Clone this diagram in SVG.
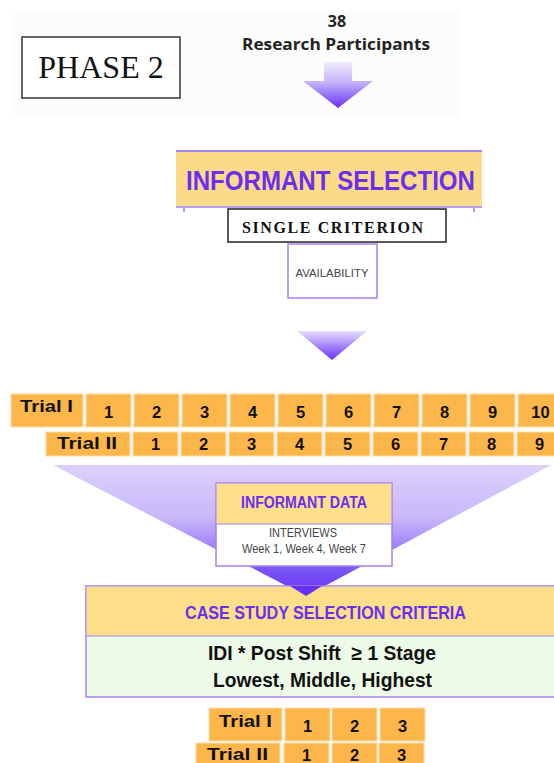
<svg xmlns="http://www.w3.org/2000/svg" width="554" height="763" viewBox="0 0 554 763">
<defs>
<style>
.cell{fill:#fdb64a;stroke:#fddcaa;stroke-width:1}
.t{font-family:"Liberation Sans",Arial,sans-serif;font-weight:bold;fill:#111}
.num{font-size:16.5px;text-anchor:middle}
.lbl{font-size:16px}
.pur{fill:#6a2ff0}
.gray{font-family:"Liberation Sans",Arial,sans-serif;fill:#444;text-anchor:middle}
</style>
<linearGradient id="g1" x1="0" y1="0" x2="0" y2="1">
<stop offset="0" stop-color="#f0ecfc"/>
<stop offset="0.45" stop-color="#c4b2fa"/>
<stop offset="1" stop-color="#6630f5"/>
</linearGradient>
<linearGradient id="g2" x1="0" y1="0" x2="0" y2="1">
<stop offset="0" stop-color="#e6defc"/>
<stop offset="1" stop-color="#6630f5"/>
</linearGradient>
<linearGradient id="g3" gradientUnits="userSpaceOnUse" x1="0" y1="465" x2="0" y2="596">
<stop offset="0" stop-color="#dcd1fb"/>
<stop offset="0.4" stop-color="#c8b8fa"/>
<stop offset="0.65" stop-color="#9a7cf7"/>
<stop offset="0.8" stop-color="#7a55f5"/>
<stop offset="1" stop-color="#6630f5"/>
</linearGradient>
</defs>

<rect x="14" y="10" width="446" height="107" fill="#fcfcfc"/>

<g id="phase2">
<rect x="22" y="37" width="158" height="61" fill="#fff" stroke="#333" stroke-width="1.5"/>
<text x="101" y="78" font-family="Liberation Serif,'Times New Roman',serif" font-size="32" text-anchor="middle" fill="#111">PHASE 2</text>
</g>

<g id="participants">
<text x="337" y="27" font-family="'Open Sans','DejaVu Sans',sans-serif" font-weight="bold" font-size="16" text-anchor="middle" fill="#222">38</text>
<text x="242" y="50" font-family="'Open Sans','DejaVu Sans',sans-serif" font-weight="bold" font-size="16" fill="#222" textLength="188" lengthAdjust="spacingAndGlyphs">Research Participants</text>
</g>

<g id="connectors">
<polygon points="324,62 352,62 352,81 373,81 338,108 303,81 324,81" fill="url(#g1)"/>
<polygon points="297,331 367,331 332,360" fill="url(#g2)"/>
<polygon points="53,465 551,465 306,596" fill="url(#g3)"/>
</g>

<g id="informant-selection">
<rect x="176" y="150" width="306" height="57" fill="#fcdb88"/>
<line x1="176" y1="151" x2="482" y2="151" stroke="#a083f2" stroke-width="2"/>
<line x1="176" y1="207" x2="482" y2="207" stroke="#b49cf3" stroke-width="2"/>
<line x1="184" y1="207" x2="184" y2="212" stroke="#b49cf3" stroke-width="2"/>
<line x1="474" y1="207" x2="474" y2="212" stroke="#b49cf3" stroke-width="2"/>
<text x="186" y="190" class="t pur" font-size="27" textLength="289" lengthAdjust="spacingAndGlyphs">INFORMANT SELECTION</text>
</g>

<g id="single-criterion">
<rect x="228" y="209" width="218" height="33" fill="#fff" stroke="#222" stroke-width="1.5"/>
<text x="242" y="233" font-family="Liberation Serif,'Times New Roman',serif" font-weight="bold" font-size="16" fill="#111" textLength="181" lengthAdjust="spacing">SINGLE CRITERION</text>
</g>

<g id="availability">
<rect x="288" y="244" width="89" height="54" fill="#fff" stroke="#a680f0" stroke-width="1.5"/>
<text x="332" y="277" class="gray" font-size="11" textLength="73" lengthAdjust="spacingAndGlyphs">AVAILABILITY</text>
</g>

<g id="trials-top">
<rect class="cell" x="11" y="394" width="72" height="33"/>
<text class="t lbl" x="20" y="412" textLength="53" lengthAdjust="spacingAndGlyphs">Trial I</text>
<rect class="cell" x="86" y="394" width="45" height="33"/><text class="t num" x="108.5" y="418">1</text>
<rect class="cell" x="134" y="394" width="45" height="33"/><text class="t num" x="156.5" y="418">2</text>
<rect class="cell" x="182" y="394" width="45" height="33"/><text class="t num" x="204.5" y="418">3</text>
<rect class="cell" x="230" y="394" width="45" height="33"/><text class="t num" x="252.5" y="418">4</text>
<rect class="cell" x="278" y="394" width="45" height="33"/><text class="t num" x="300.5" y="418">5</text>
<rect class="cell" x="326" y="394" width="45" height="33"/><text class="t num" x="348.5" y="418">6</text>
<rect class="cell" x="374" y="394" width="45" height="33"/><text class="t num" x="396.5" y="418">7</text>
<rect class="cell" x="422" y="394" width="45" height="33"/><text class="t num" x="444.5" y="418">8</text>
<rect class="cell" x="470" y="394" width="45" height="33"/><text class="t num" x="492.5" y="418">9</text>
<rect class="cell" x="518" y="394" width="45" height="33"/><text class="t num" x="540.5" y="418">10</text>

<rect class="cell" x="46" y="432" width="84" height="24"/>
<text class="t lbl" x="57" y="449" textLength="60" lengthAdjust="spacingAndGlyphs">Trial II</text>
<rect class="cell" x="133" y="432" width="45" height="24"/><text class="t num" x="155.5" y="450">1</text>
<rect class="cell" x="181" y="432" width="45" height="24"/><text class="t num" x="203.5" y="450">2</text>
<rect class="cell" x="229" y="432" width="45" height="24"/><text class="t num" x="251.5" y="450">3</text>
<rect class="cell" x="277" y="432" width="45" height="24"/><text class="t num" x="299.5" y="450">4</text>
<rect class="cell" x="325" y="432" width="45" height="24"/><text class="t num" x="347.5" y="450">5</text>
<rect class="cell" x="373" y="432" width="45" height="24"/><text class="t num" x="395.5" y="450">6</text>
<rect class="cell" x="421" y="432" width="45" height="24"/><text class="t num" x="443.5" y="450">7</text>
<rect class="cell" x="469" y="432" width="45" height="24"/><text class="t num" x="491.5" y="450">8</text>
<rect class="cell" x="517" y="432" width="45" height="24"/><text class="t num" x="539.5" y="450">9</text>
</g>

<g id="informant-data">
<rect x="216" y="483" width="176" height="83" fill="#fff" stroke="#a680f0" stroke-width="1.5"/>
<rect x="216.75" y="483.75" width="174.5" height="40.25" fill="#fddf8a"/>
<line x1="216" y1="524" x2="392" y2="524" stroke="#a680f0" stroke-width="1"/>
<text x="304" y="508" class="t pur" font-size="16" text-anchor="middle" textLength="126" lengthAdjust="spacingAndGlyphs">INFORMANT DATA</text>
<text x="303" y="537" class="gray" font-size="12" textLength="68" lengthAdjust="spacingAndGlyphs">INTERVIEWS</text>
<text x="304" y="553" class="gray" font-size="12" textLength="124" lengthAdjust="spacingAndGlyphs">Week 1, Week 4, Week 7</text>
</g>

<g id="case-study">
<rect x="86" y="586" width="480" height="111" fill="#edfce8" stroke="#a680f0" stroke-width="1.5"/>
<rect x="86.75" y="586.75" width="478" height="49.25" fill="#fddf8a"/>
<line x1="86" y1="636" x2="566" y2="636" stroke="#a680f0" stroke-width="1"/>
<text x="185" y="619" class="t pur" font-size="19" textLength="281" lengthAdjust="spacingAndGlyphs">CASE STUDY SELECTION CRITERIA</text>
<text x="208" y="660" class="t" font-size="20" textLength="228" lengthAdjust="spacingAndGlyphs">IDI * Post Shift&#160; ≥ 1 Stage</text>
<text x="213" y="687" class="t" font-size="20" textLength="219" lengthAdjust="spacingAndGlyphs">Lowest, Middle, Highest</text>
</g>

<polygon points="290,586 322,586 306,596" fill="#6630f5"/>

<g id="trials-bottom">
<rect class="cell" x="209" y="708" width="73" height="33"/>
<text class="t lbl" x="219" y="727" textLength="53" lengthAdjust="spacingAndGlyphs">Trial I</text>
<rect class="cell" x="285" y="708" width="45" height="33"/><text class="t num" x="307.5" y="732">1</text>
<rect class="cell" x="332" y="708" width="45" height="33"/><text class="t num" x="354.5" y="732">2</text>
<rect class="cell" x="380" y="708" width="45" height="33"/><text class="t num" x="402.5" y="732">3</text>
<rect class="cell" x="196" y="743" width="84" height="24"/>
<text class="t lbl" x="207" y="760" textLength="61" lengthAdjust="spacingAndGlyphs">Trial II</text>
<rect class="cell" x="284" y="743" width="45" height="24"/><text class="t num" x="306.5" y="761">1</text>
<rect class="cell" x="332" y="743" width="45" height="24"/><text class="t num" x="354.5" y="761">2</text>
<rect class="cell" x="379" y="743" width="45" height="24"/><text class="t num" x="401.5" y="761">3</text>
</g>
</svg>
